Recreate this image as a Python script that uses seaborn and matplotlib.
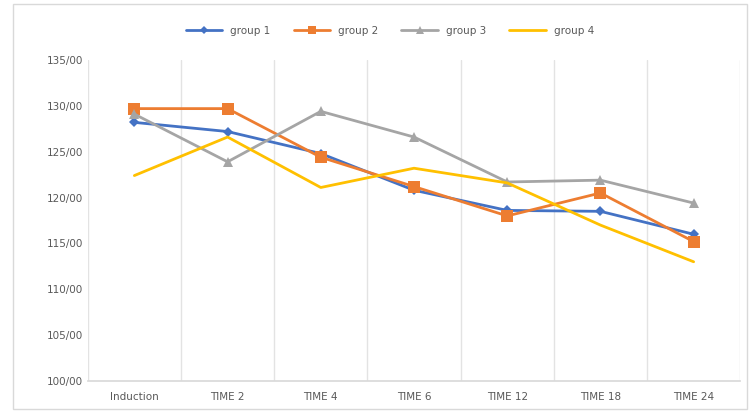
import matplotlib
matplotlib.use("Agg")
import matplotlib.pyplot as plt
import matplotlib.ticker as mticker
from matplotlib.patches import Rectangle
import pandas as pd
import seaborn as sns

times = ["Induction", "TIME 2", "TIME 4", "TIME 6", "TIME 12", "TIME 18", "TIME 24"]
group1 = [128.2, 127.2, 124.8, 120.8, 118.6, 118.5, 116.0]
group2 = [129.7, 129.7, 124.4, 121.2, 118.0, 120.5, 115.2]
group3 = [129.1, 123.9, 129.4, 126.6, 121.7, 121.9, 119.4]
group4 = [122.4, 126.6, 121.1, 123.2, 121.6, 117.0, 113.0]
groups = ["group 1", "group 2", "group 3", "group 4"]
colors = ["#4472C4", "#ED7D31", "#A5A5A5", "#FFC000"]
markers = ["D", "s", "^", None]
msizes = [5.5, 8, 6.5, 0]

sns.set_theme(style="white")
plt.rcParams["font.family"] = ["DejaVu Sans"]

fig = plt.figure(figsize=(7.5, 4.11), dpi=100)
ax = fig.add_axes([0.117, 0.073, 0.87, 0.781])

for name, vals, c, m, ms in zip(groups, [group1, group2, group3, group4], colors, markers, msizes):
    d = pd.DataFrame({"pos": range(len(times)), "value": vals})
    sns.lineplot(data=d, x="pos", y="value", color=c, marker=m, markersize=ms,
                 markeredgewidth=0, linewidth=2, label=name, ax=ax)

ax.set_xlim(-0.5, len(times) - 0.5)
ax.set_ylim(100, 135)
ax.set_xticks(range(len(times)))
ax.set_xticklabels(times)
ax.yaxis.set_major_locator(mticker.MultipleLocator(5))
ax.yaxis.set_major_formatter(mticker.FuncFormatter(lambda v, p: f"{int(v)}/00"))
ax.set_xticks([i - 0.5 for i in range(len(times) + 1)], minor=True)
ax.grid(which="minor", axis="x", color="#E3E3E3", linewidth=1)
ax.grid(which="major", axis="both", visible=False)
ax.tick_params(axis="both", which="both", length=0, labelsize=7.5, colors="#595959")
ax.tick_params(axis="x", pad=8)
ax.set_xlabel("")
ax.set_ylabel("")
for side in ["top", "right", "left"]:
    ax.spines[side].set_visible(False)
ax.spines["bottom"].set_color("#D9D9D9")

handles, labels = ax.get_legend_handles_labels()
ax.legend(handles, labels, loc="center", bbox_to_anchor=(0.52, 0.925),
          bbox_transform=fig.transFigure, ncol=4, frameon=False, markerscale=0.8,
          fontsize=7.5, handlelength=3.5, columnspacing=2.2, labelcolor="#595959")

fig.patches.append(Rectangle((0.018, 0.005), 0.978, 0.985, transform=fig.transFigure,
                             fill=False, edgecolor="#D9D9D9", linewidth=1))

fig.savefig("out.png", dpi=100)
